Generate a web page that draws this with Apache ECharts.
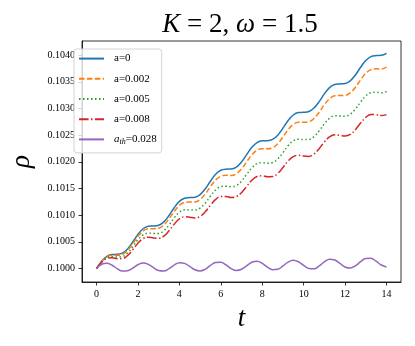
<!DOCTYPE html>
<html>
<head>
<meta charset="utf-8">
<script src="https://cdn.jsdelivr.net/npm/echarts@6/dist/echarts.min.js"></script>
<style>
  html, body { margin: 0; padding: 0; background: #fff; }
  #chart { width: 415px; height: 346px; }
</style>
</head>
<body>
<div id="chart"></div>
<script>
// time samples
const tValues = [0, 0.25, 0.5, 0.75, 1, 1.25, 1.5, 1.75, 2, 2.25, 2.5, 2.75, 3, 3.25, 3.5, 3.75,
  4, 4.25, 4.5, 4.75, 5, 5.25, 5.5, 5.75, 6, 6.25, 6.5, 6.75, 7, 7.25, 7.5, 7.75,
  8, 8.25, 8.5, 8.75, 9, 9.25, 9.5, 9.75, 10, 10.25, 10.5, 10.75, 11, 11.25, 11.5, 11.75,
  12, 12.25, 12.5, 12.75, 13, 13.25, 13.5, 13.75, 14]

// rho for a = 0
const rhoA0 = [0.100000, 0.100138, 0.100230, 0.100264, 0.100267, 0.100289, 0.100367, 0.100497,
  0.100640, 0.100746, 0.100792, 0.100798, 0.100812, 0.100875, 0.100995, 0.101139,
  0.101258, 0.101318, 0.101331, 0.101337, 0.101386, 0.101494, 0.101637, 0.101766,
  0.101842, 0.101862, 0.101865, 0.101901, 0.101996, 0.102134, 0.102271, 0.102361,
  0.102393, 0.102396, 0.102420, 0.102500, 0.102631, 0.102773, 0.102877, 0.102922,
  0.102927, 0.102942, 0.103007, 0.103129, 0.103273, 0.103390, 0.103448, 0.103459,
  0.103467, 0.103518, 0.103628, 0.103771, 0.103899, 0.103972, 0.103991, 0.103995, 0.104032]

// a = 0.002
const rhoA002 = [0.100000, 0.100133, 0.100221, 0.100250, 0.100248, 0.100266, 0.100339, 0.100465,
  0.100603, 0.100704, 0.100746, 0.100748, 0.100756, 0.100815, 0.100930, 0.101070,
  0.101184, 0.101240, 0.101247, 0.101249, 0.101294, 0.101397, 0.101535, 0.101660,
  0.101731, 0.101747, 0.101745, 0.101776, 0.101866, 0.102000, 0.102132, 0.102218,
  0.102245, 0.102243, 0.102262, 0.102338, 0.102465, 0.102602, 0.102702, 0.102741,
  0.102742, 0.102752, 0.102813, 0.102930, 0.103070, 0.103182, 0.103236, 0.103242,
  0.103245, 0.103291, 0.103397, 0.103535, 0.103658, 0.103727, 0.103742, 0.103740, 0.103773]

// a = 0.005
const rhoA005 = [0.100000, 0.100125, 0.100205, 0.100226, 0.100216, 0.100225, 0.100290, 0.100408,
  0.100538, 0.100631, 0.100665, 0.100658, 0.100659, 0.100709, 0.100816, 0.100948,
  0.101054, 0.101102, 0.101101, 0.101095, 0.101131, 0.101226, 0.101357, 0.101473,
  0.101536, 0.101544, 0.101534, 0.101557, 0.101639, 0.101765, 0.101889, 0.101966,
  0.101985, 0.101975, 0.101986, 0.102053, 0.102172, 0.102302, 0.102393, 0.102425,
  0.102417, 0.102419, 0.102471, 0.102581, 0.102712, 0.102816, 0.102862, 0.102860,
  0.102855, 0.102893, 0.102990, 0.103121, 0.103236, 0.103296, 0.103303, 0.103293, 0.103318]

// a = 0.008
const rhoA008 = [0.100000, 0.100117, 0.100189, 0.100202, 0.100185, 0.100187, 0.100244, 0.100354,
  0.100476, 0.100561, 0.100587, 0.100573, 0.100566, 0.100608, 0.100708, 0.100832,
  0.100930, 0.100970, 0.100962, 0.100948, 0.100976, 0.101064, 0.101186, 0.101295,
  0.101350, 0.101350, 0.101332, 0.101348, 0.101422, 0.101540, 0.101656, 0.101726,
  0.101737, 0.101719, 0.101723, 0.101782, 0.101893, 0.102015, 0.102098, 0.102122,
  0.102107, 0.102101, 0.102146, 0.102247, 0.102371, 0.102467, 0.102505, 0.102496,
  0.102483, 0.102513, 0.102603, 0.102726, 0.102833, 0.102885, 0.102884, 0.102867, 0.102884]

// a_th = 0.028
const rhoAth = [0.100000, 0.100080, 0.100098, 0.100062, 0.099999, 0.099953, 0.099957, 0.100009,
  0.100072, 0.100103, 0.100079, 0.100017, 0.099962, 0.099953, 0.099997, 0.100065,
  0.100108, 0.100097, 0.100040, 0.099977, 0.099955, 0.099989, 0.100058, 0.100113,
  0.100117, 0.100067, 0.099999, 0.099963, 0.099986, 0.100052, 0.100117, 0.100136,
  0.100096, 0.100027, 0.099979, 0.099987, 0.100048, 0.100121, 0.100155, 0.100127,
  0.100060, 0.100001, 0.099995, 0.100048, 0.100124, 0.100173, 0.100160, 0.100097,
  0.100030, 0.100009, 0.100051, 0.100129, 0.100190, 0.100193, 0.100138, 0.100066, 0.100030]

const xTicks = [0, 2, 4, 6, 8, 10, 12, 14]
const yTicks = [0.1000, 0.1005, 0.1010, 0.1015, 0.1020, 0.1025, 0.1030, 0.1035, 0.1040]

const serif = "Liberation Serif"

function pairs(ys) {
  return tValues.map((t, i) => [t, ys[i]])
}

const seriesDefs = [
  { name: "a=0", data: rhoA0, color: "#1f77b4", type: "solid" },
  { name: "a=0.002", data: rhoA002, color: "#ff7f0e", type: [5.5, 2.4] },
  { name: "a=0.005", data: rhoA005, color: "#2ca02c", type: [1.5, 2.5] },
  { name: "a=0.008", data: rhoA008, color: "#d62728", type: [9.6, 2.4, 1.5, 2.4] },
  { name: "ath", data: rhoAth, color: "#9467bd", type: "solid" }
]

const chart = echarts.init(document.getElementById("chart"), null, { renderer: "canvas" })

chart.setOption({
  animation: false,
  title: {
    text: "{i|K} = 2, {i|ω} = 1.5",
    left: 235,
    textAlign: "center",
    top: 6,
    textStyle: {
      fontFamily: serif,
      fontSize: 27,
      fontWeight: "normal",
      color: "#000",
      rich: {
        i: { fontFamily: serif, fontStyle: "italic", fontSize: 27, color: "#000" }
      }
    }
  },
  legend: {
    orient: "vertical",
    left: 74,
    top: 49,
    itemWidth: 25,
    itemHeight: 14,
    itemGap: 9,
    padding: [4, 5, 7, 4],
    borderColor: "#d3d3d3",
    borderWidth: 1,
    borderRadius: 3,
    backgroundColor: "rgba(255,255,255,0.8)",
    itemStyle: { color: "rgba(0,0,0,0)", borderColor: "rgba(0,0,0,0)", borderWidth: 0 },
    data: seriesDefs.map(s => s.name),
    formatter: name => (name === "ath" ? "{i|a}{sub|th}=0.028" : name),
    textStyle: {
      fontFamily: serif,
      fontSize: 11,
      color: "#000",
      padding: [0, 0, 0, 5],
      rich: {
        i: { fontFamily: serif, fontStyle: "italic", fontSize: 11, color: "#000" },
        sub: { fontFamily: serif, fontStyle: "italic", fontSize: 8, color: "#000", verticalAlign: "bottom", padding: [5, 0, 0, 0] }
      }
    }
  },
  grid: {
    left: 69,
    top: 41,
    width: 332,
    height: 241,
    show: true,
    borderColor: "#000",
    borderWidth: 0.8,
    backgroundColor: "transparent"
  },
  xAxis: {
    type: "value",
    min: -0.7,
    max: 14.7,
    name: "t",
    nameLocation: "middle",
    nameGap: 23,
    nameTextStyle: { fontFamily: serif, fontStyle: "italic", fontSize: 27, color: "#000" },
    axisLine: { show: true, onZero: false, lineStyle: { color: "#000", width: 0.8 } },
    axisTick: { show: true, inside: false, length: 3.5, customValues: xTicks, lineStyle: { color: "#000", width: 0.8 } },
    axisLabel: {
      customValues: xTicks,
      margin: 7,
      fontFamily: serif,
      fontSize: 10,
      color: "#000"
    },
    splitLine: { show: false }
  },
  yAxis: {
    type: "value",
    min: 0.099748,
    max: 0.104264,
    name: "ρ",
    nameLocation: "middle",
    nameRotate: 90,
    nameGap: 47,
    nameTextStyle: { fontFamily: serif, fontStyle: "italic", fontSize: 27, color: "#000" },
    axisLine: { show: true, onZero: false, lineStyle: { color: "#000", width: 0.8 } },
    axisTick: { show: true, inside: false, length: 3.5, customValues: yTicks, lineStyle: { color: "#000", width: 0.8 } },
    axisLabel: {
      customValues: yTicks,
      margin: 7,
      fontFamily: serif,
      fontSize: 10,
      color: "#000",
      formatter: v => v.toFixed(4)
    },
    splitLine: { show: false }
  },
  series: seriesDefs.map(s => ({
    type: "line",
    name: s.name,
    data: pairs(s.data),
    smooth: 0.4,
    symbol: "none",
    showSymbol: false,
    color: s.color,
    lineStyle: { color: s.color, width: 1.5, type: s.type },
    z: 2
  }))
})
</script>
</body>
</html>
